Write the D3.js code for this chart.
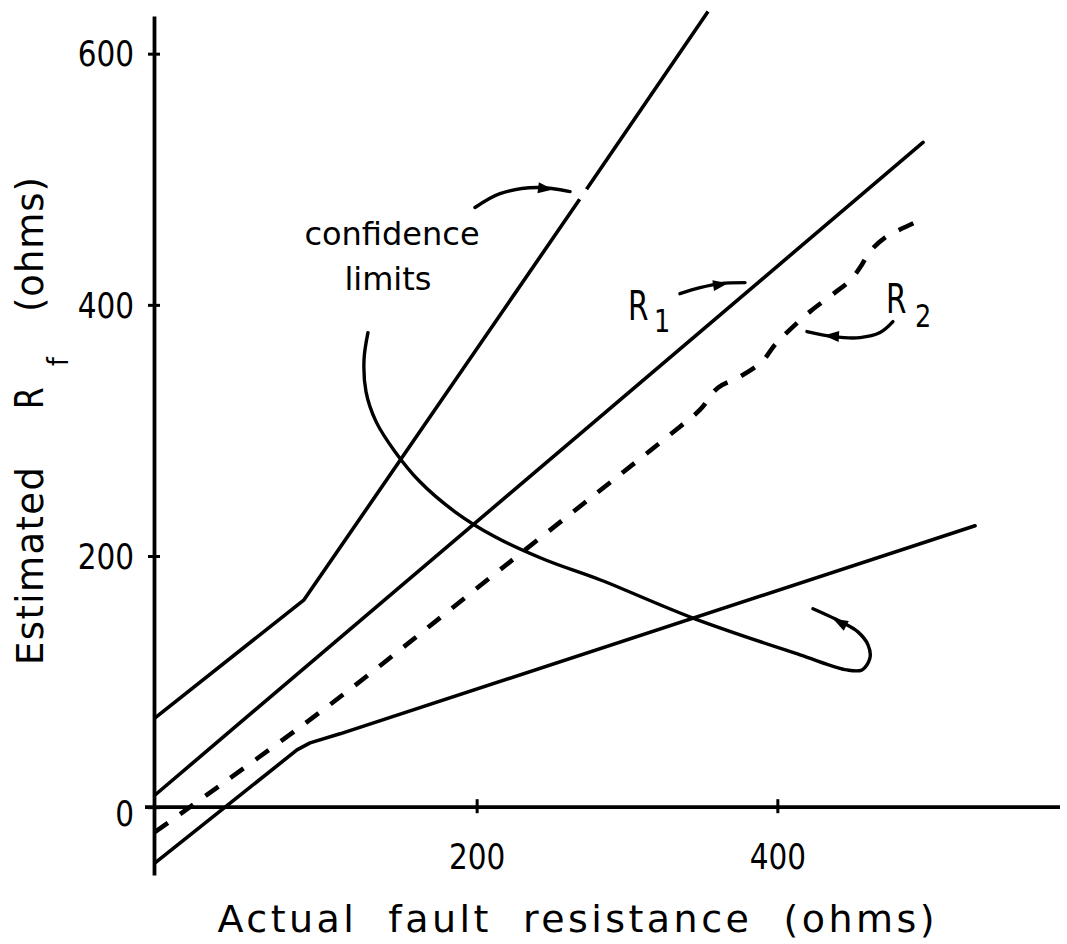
<!DOCTYPE html>
<html><head><meta charset="utf-8">
<script src="https://cdn.jsdelivr.net/npm/d3@7"></script>
<style>
html,body{margin:0;padding:0;background:#fff;}
svg{display:block;background:#fff;}
text{font-family:"DejaVu Sans",sans-serif;fill:#000;white-space:pre;}
</style></head><body>
<svg id="chart" width="1067" height="944"></svg>
<script>
// ---------- data (ohms) ----------
const xTicks = [200, 400];
const yTicks = [0, 200, 400, 600];
const upperLimit = [[-13.9,71.1],[85.2,165.1],[270.7,487.8],[353.9,633.6]];
const r1 = [[-13.9,9.7],[496.9,529.3]];
const lowerLimit = [[-13.9,-44.4],[80.5,45.6],[89.2,51.2],[109.1,58.4],[531.5,224.1]];
const r2 = [[-13.9,-19.7],[100.5,79.9],[215.5,189.0],[335.2,303.0],[348.6,316.5],[360.5,334.0],
  [375.2,342.8],[389.8,354.8],[398.4,368.3],[408.4,380.3],[421.7,394.6],[438.3,409.7],
  [448.3,419.3],[455.0,429.7],[461.6,442.4],[471.6,453.6],[481.6,460.0],[492.9,466.3]];
// annotation pointer curves (in data units)
const confCurve = [[127.7,377.9],[125.1,356.4],[126.4,330.9],[133.1,307.0],[145.7,283.1],[162.3,259.1],
  [185.6,235.2],[212.2,215.3],[245.5,197.0],[282.0,181.1],[345.2,150.0],[415.1,121.3],[446.3,109.3],
  [456.3,109.3],[461.6,118.9],[460.3,129.3],[453.6,139.6],[443.7,146.8],[423.7,158.0]];
const confArrowTop = [[198.9,477.5],[215.5,488.6],[240.1,493.4],[262.1,490.2]];
const r1Arrow = [[335.2,408.9],[348.6,413.7],[361.9,416.9],[378.5,417.7]];
const r2Arrow = [[476.9,386.6],[468.3,377.9],[455.0,373.9],[437.0,374.7],[419.7,378.7]];
// arrow heads: [tail, tip]
const heads = [
  [[240.1,493.4],[250.8,491.8]],
  [[348.6,413.7],[367.2,417.2]],
  [[455.0,373.9],[431.0,375.5]],
  [[453.6,139.6],[437.0,150.0]]
];
const upperGap = [484, 492];   // break in the upper limit line where the pointer arrives
const annotations = [
  {text:"confidence", at:[143.7,448.0]},
  {text:"limits", at:[141.0,412.1]}
];

// ---------- drawing ----------
const svg = d3.select("#chart");
const x = d3.scaleLinear().domain([-14.6, 588]).range([154, 1060]);
const y = d3.scaleLinear().domain([-54, 630]).range([875, 16]);

const line = d3.line().x(d => x(d[0])).y(d => y(d[1]));
const smooth = d3.line().x(d => x(d[0])).y(d => y(d[1])).curve(d3.curveCatmullRom.alpha(0.5));

const plot = svg.append("g");
function stroke(sel, w){ return sel.attr("fill","none").attr("stroke","#000").attr("stroke-width",w)
  .attr("stroke-linecap","round").attr("stroke-linejoin","round"); }

const up = stroke(plot.append("path").attr("d", line(upperLimit)), 3.6);
// open a small gap in the upper line
(function(){
  const node = up.node(), L = node.getTotalLength();
  function lenAtY(py){ let a = 0, b = L; for (let i = 0; i < 40; i++){ const m = (a + b) / 2;
      if (node.getPointAtLength(m).y > py) a = m; else b = m; } return (a + b) / 2; }
  const l1 = lenAtY(y(upperGap[0])), l2 = lenAtY(y(upperGap[1]));
  up.attr("stroke-dasharray", `${l1} ${l2 - l1} ${L}`).attr("stroke-linecap", "butt");
})();
stroke(plot.append("path").attr("d", line(r1)), 3.6);
stroke(plot.append("path").attr("d", line(lowerLimit)), 3.6);
stroke(plot.append("path").attr("d", smooth(r2)), 4.6).attr("stroke-dasharray","16 15").attr("stroke-linecap","butt");

stroke(plot.append("path").attr("d", smooth(confCurve)), 3.4);
stroke(plot.append("path").attr("d", smooth(confArrowTop)), 3.4);
stroke(plot.append("path").attr("d", smooth(r1Arrow)), 3.4);
stroke(plot.append("path").attr("d", smooth(r2Arrow)), 3.4);

heads.forEach(([t, p]) => {
  const tx = x(t[0]), ty = y(t[1]), px = x(p[0]), py = y(p[1]);
  const dx = px - tx, dy = py - ty, L = Math.hypot(dx, dy), ux = dx / L, uy = dy / L;
  const len = 15, w = 5.5;
  const bx = px - ux * len, by = py - uy * len;
  plot.append("path")
    .attr("d", `M${px},${py}L${bx - uy * w},${by + ux * w}L${bx + uy * w},${by - ux * w}Z`)
    .attr("fill", "#000");
});

// axes
const yAxis = d3.axisLeft(y).tickValues(yTicks).tickSize(0).tickPadding(20).tickSizeOuter(0);
const gy = svg.append("g").attr("transform", `translate(${x.range()[0]},0)`).call(yAxis)
  .attr("font-size", null).attr("font-family", null);
gy.select(".domain").attr("stroke", "#000").attr("stroke-width", 3.8);
gy.selectAll(".tick line").attr("x1", -6).attr("x2", 6).attr("stroke", "#000").attr("stroke-width", 3);
gy.selectAll(".tick text").attr("font-size", 36).attr("fill", "#000")
  .attr("dy", d => d === 0 ? "0.5em" : "0.34em");

const xAxis = d3.axisBottom(x).tickValues(xTicks).tickSize(0).tickPadding(36).tickSizeOuter(0);
const gx = svg.append("g").attr("transform", `translate(0,${y(0)})`).call(xAxis)
  .attr("font-size", null).attr("font-family", null);
gx.select(".domain").attr("stroke", "#000").attr("stroke-width", 3.8)
  .attr("d", `M${x.range()[0] - 9},0H${x.range()[1]}`);
gx.selectAll(".tick line").attr("y1", -8).attr("y2", 6).attr("stroke", "#000").attr("stroke-width", 3);
gx.selectAll(".tick text").attr("font-size", 36).attr("fill", "#000");

function fit(sel, k){
  sel.each(function(){
    const w = this.getComputedTextLength();
    this.setAttribute("textLength", w * k);
    this.setAttribute("lengthAdjust", k < 1 ? "spacingAndGlyphs" : "spacing");
  });
}
fit(gy.selectAll(".tick text"), 0.82);
fit(gx.selectAll(".tick text"), 0.82);

// annotation text
annotations.forEach(a => {
  svg.append("text").attr("x", x(a.at[0])).attr("y", y(a.at[1]))
    .attr("text-anchor", "middle").attr("font-size", 32).text(a.text);
});

// R1 / R2 labels
function rLabel(atR, atSub, sub){
  svg.append("text").attr("transform", `translate(${x(atR[0])},${y(atR[1])}) scale(0.72,1)`)
    .attr("font-size", 41).text("R");
  svg.append("text").attr("transform", `translate(${x(atSub[0])},${y(atSub[1])}) scale(0.8,1)`)
    .attr("font-size", 32).text(sub);
}
rLabel([300.7,388.2],[318.0,378.7],"1");
rLabel([472.3,393.8],[491.6,382.7],"2");

// axis titles
svg.append("text").attr("x", 576).attr("y", 932).attr("text-anchor", "middle")
  .attr("font-size", 38).attr("textLength", 717).attr("lengthAdjust", "spacing")
  .text("Actual  fault  resistance  (ohms)");

const yt = svg.append("g").attr("transform", "translate(43,0)");
yt.append("text").attr("transform", "translate(0,665) rotate(-90)").attr("font-size", 37)
  .attr("textLength", 198).attr("lengthAdjust", "spacing").text("Estimated");
yt.append("text").attr("transform", "translate(0,409) rotate(-90) scale(0.8,1)").attr("font-size", 39).text("R");
yt.append("text").attr("transform", "translate(25,366) rotate(-90) scale(0.9,1)").attr("font-size", 28).text("f");
yt.append("text").attr("transform", "translate(0,312) rotate(-90)").attr("font-size", 37)
  .attr("textLength", 135).attr("lengthAdjust", "spacing").text("(ohms)");
</script>
</body></html>
